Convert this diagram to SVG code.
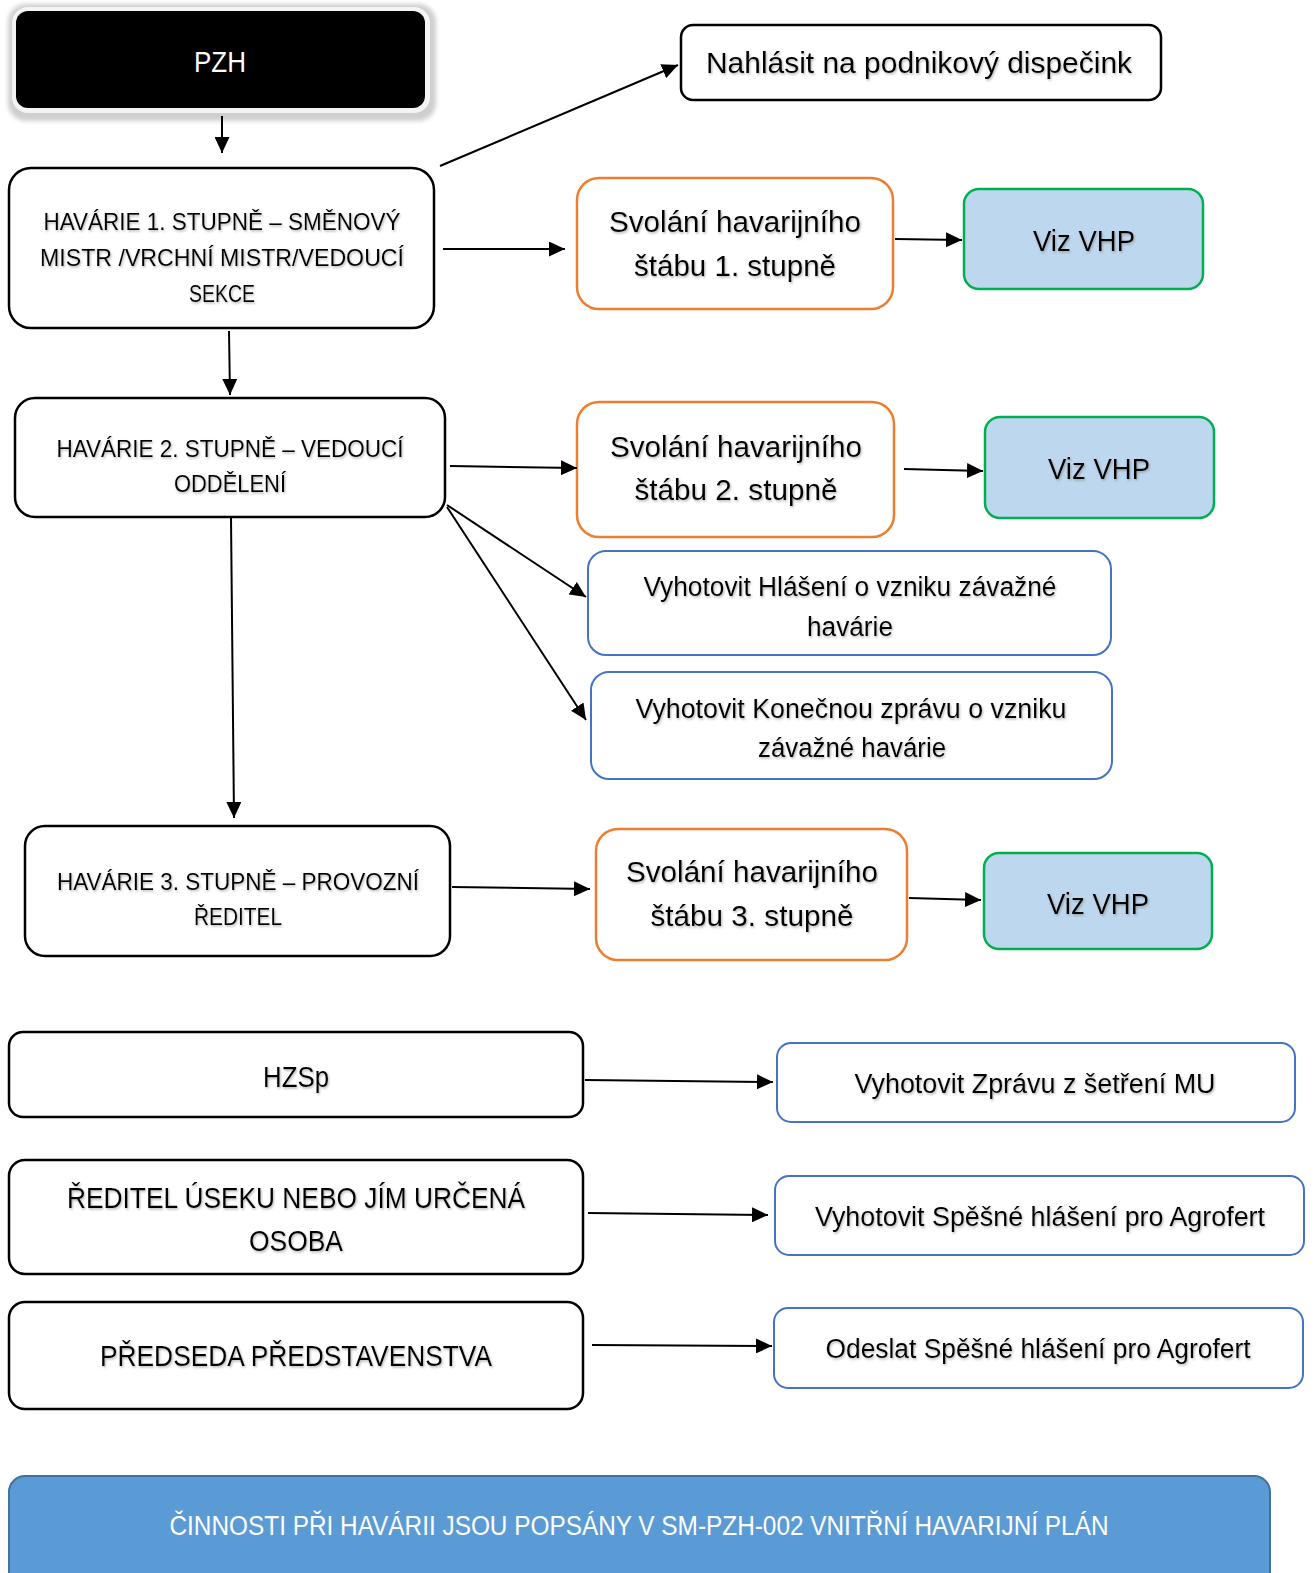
<svg xmlns="http://www.w3.org/2000/svg" width="1316" height="1573" viewBox="0 0 1316 1573">
<style>
text{font-family:"Liberation Sans","Noto Sans",sans-serif;text-anchor:middle;fill:#000}
.t{filter:url(#ts)}
.blk{fill:#fff;stroke:#000;stroke-width:2.5}
.org{fill:#fff;stroke:#ED7D31;stroke-width:2.5}
.grn{fill:#BDD7EE;stroke:#00B050;stroke-width:2.5}
.blu{fill:#fff;stroke:#4472C4;stroke-width:2}
.c line{stroke:#000;stroke-width:2;marker-end:url(#ah)}
.s22{font-size:24px}
.s28{font-size:30px}
.s26{font-size:27px}
</style>
<defs>
<marker id="ah" markerUnits="userSpaceOnUse" markerWidth="17" markerHeight="15" refX="16" refY="7.5" orient="auto">
<path d="M0,0 L16,7.5 L0,15 Z" fill="#000"/>
</marker>
<filter id="ts" x="-5%" y="-20%" width="110%" height="150%">
<feDropShadow dx="1" dy="1.5" stdDeviation="1" flood-color="#777" flood-opacity="0.55"/>
</filter>
<filter id="bl" x="-5%" y="-10%" width="110%" height="130%">
<feGaussianBlur stdDeviation="2"/>
</filter>
</defs>

<g id="pzh">
<rect x="8" y="4" width="428" height="117" rx="18" fill="#cfcfcf" filter="url(#bl)"/>
<rect x="12" y="7" width="418" height="106" rx="16" fill="#f4f4f4"/>
<rect x="16" y="11" width="409" height="97" rx="12" fill="#000"/>
<text x="220" y="72" font-size="30" style="fill:#fff" textLength="52" lengthAdjust="spacingAndGlyphs">PZH</text>
</g>

<g id="h1">
<rect class="blk" x="9" y="168" width="425" height="160" rx="22"/>
<text class="t s22" x="222" y="230" textLength="357" lengthAdjust="spacingAndGlyphs">HAVÁRIE 1. STUPNĚ – SMĚNOVÝ</text>
<text class="t s22" x="222" y="266" textLength="364" lengthAdjust="spacingAndGlyphs">MISTR /VRCHNÍ MISTR/VEDOUCÍ</text>
<text class="t s22" x="222" y="302" textLength="66" lengthAdjust="spacingAndGlyphs">SEKCE</text>
</g>

<g id="nahlasit">
<rect class="blk" x="681" y="25" width="480" height="75" rx="12"/>
<text class="t s28" x="919" y="73" textLength="426" lengthAdjust="spacingAndGlyphs">Nahlásit na podnikový dispečink</text>
</g>

<g id="svol1">
<rect class="org" x="577" y="178" width="316" height="131" rx="22"/>
<text class="t s28" x="735" y="232" textLength="252" lengthAdjust="spacingAndGlyphs">Svolání havarijního</text>
<text class="t s28" x="735" y="276" textLength="202" lengthAdjust="spacingAndGlyphs">štábu 1. stupně</text>
</g>

<g id="vhp1">
<rect class="grn" x="964" y="189" width="239" height="100" rx="15"/>
<text class="t s28" x="1084" y="251" textLength="102" lengthAdjust="spacingAndGlyphs">Viz VHP</text>
</g>

<g id="h2">
<rect class="blk" x="15" y="398" width="430" height="119" rx="20"/>
<text class="t s22" x="230" y="457" textLength="347" lengthAdjust="spacingAndGlyphs">HAVÁRIE 2. STUPNĚ – VEDOUCÍ</text>
<text class="t s22" x="230" y="492" textLength="112" lengthAdjust="spacingAndGlyphs">ODDĚLENÍ</text>
</g>

<g id="svol2">
<rect class="org" x="577" y="402" width="317" height="135" rx="22"/>
<text class="t s28" x="736" y="457" textLength="252" lengthAdjust="spacingAndGlyphs">Svolání havarijního</text>
<text class="t s28" x="736" y="500" textLength="203" lengthAdjust="spacingAndGlyphs">štábu 2. stupně</text>
</g>

<g id="vhp2">
<rect class="grn" x="985" y="417" width="229" height="101" rx="15"/>
<text class="t s28" x="1099" y="479" textLength="102" lengthAdjust="spacingAndGlyphs">Viz VHP</text>
</g>

<g id="hlaseni">
<rect class="blu" x="588" y="551" width="523" height="104" rx="18"/>
<text class="t s26" x="850" y="596" textLength="413" lengthAdjust="spacingAndGlyphs">Vyhotovit Hlášení o vzniku závažné</text>
<text class="t s26" x="850" y="636" textLength="86" lengthAdjust="spacingAndGlyphs">havárie</text>
</g>

<g id="konecna">
<rect class="blu" x="591" y="672" width="521" height="107" rx="18"/>
<text class="t s26" x="851" y="718" textLength="431" lengthAdjust="spacingAndGlyphs">Vyhotovit Konečnou zprávu o vzniku</text>
<text class="t s26" x="852" y="757" textLength="188" lengthAdjust="spacingAndGlyphs">závažné havárie</text>
</g>

<g id="h3">
<rect class="blk" x="25" y="826" width="425" height="130" rx="20"/>
<text class="t s22" x="238" y="890" textLength="362" lengthAdjust="spacingAndGlyphs">HAVÁRIE 3. STUPNĚ – PROVOZNÍ</text>
<text class="t s22" x="238" y="925" textLength="88" lengthAdjust="spacingAndGlyphs">ŘEDITEL</text>
</g>

<g id="svol3">
<rect class="org" x="596" y="829" width="311" height="131" rx="22"/>
<text class="t s28" x="752" y="882" textLength="252" lengthAdjust="spacingAndGlyphs">Svolání havarijního</text>
<text class="t s28" x="752" y="926" textLength="203" lengthAdjust="spacingAndGlyphs">štábu 3. stupně</text>
</g>

<g id="vhp3">
<rect class="grn" x="984" y="853" width="228" height="96" rx="15"/>
<text class="t s28" x="1098" y="914" textLength="102" lengthAdjust="spacingAndGlyphs">Viz VHP</text>
</g>

<g id="hzsp">
<rect class="blk" x="9" y="1032" width="574" height="85" rx="14"/>
<text class="t s28" x="296" y="1087" textLength="66" lengthAdjust="spacingAndGlyphs">HZSp</text>
</g>

<g id="zprava">
<rect class="blu" x="777" y="1043" width="518" height="79" rx="14"/>
<text class="t s26" x="1035" y="1093" textLength="361" lengthAdjust="spacingAndGlyphs">Vyhotovit Zprávu z šetření MU</text>
</g>

<g id="reditel">
<rect class="blk" x="9" y="1160" width="574" height="114" rx="16"/>
<text class="t s28" x="296" y="1208" textLength="458" lengthAdjust="spacingAndGlyphs">ŘEDITEL ÚSEKU NEBO JÍM URČENÁ</text>
<text class="t s28" x="296" y="1251" textLength="94" lengthAdjust="spacingAndGlyphs">OSOBA</text>
</g>

<g id="spesne">
<rect class="blu" x="775" y="1176" width="529" height="79" rx="14"/>
<text class="t s26" x="1040" y="1226" textLength="450" lengthAdjust="spacingAndGlyphs">Vyhotovit Spěšné hlášení pro Agrofert</text>
</g>

<g id="predseda">
<rect class="blk" x="9" y="1302" width="574" height="107" rx="16"/>
<text class="t s28" x="296" y="1366" textLength="392" lengthAdjust="spacingAndGlyphs">PŘEDSEDA PŘEDSTAVENSTVA</text>
</g>

<g id="odeslat">
<rect class="blu" x="774" y="1308" width="529" height="80" rx="14"/>
<text class="t s26" x="1038" y="1358" textLength="425" lengthAdjust="spacingAndGlyphs">Odeslat Spěšné hlášení pro Agrofert</text>
</g>

<g id="banner">
<rect x="9" y="1476" width="1261" height="120" rx="16" fill="#5B9BD5" stroke="#41719C" stroke-width="2"/>
<text x="639" y="1535" font-size="27" style="fill:#fff" textLength="939" lengthAdjust="spacingAndGlyphs">ČINNOSTI PŘI HAVÁRII JSOU POPSÁNY V SM-PZH-002 VNITŘNÍ HAVARIJNÍ PLÁN</text>
</g>

<g id="connectors" class="c">
<line x1="222" y1="116" x2="222" y2="153"/>
<line x1="440" y1="166" x2="678" y2="65"/>
<line x1="443" y1="249" x2="565" y2="249"/>
<line x1="895" y1="239" x2="962" y2="240"/>
<line x1="229" y1="331" x2="230" y2="395"/>
<line x1="450" y1="466" x2="577" y2="468"/>
<line x1="904" y1="469" x2="983" y2="471"/>
<line x1="447" y1="505" x2="586" y2="597"/>
<line x1="447" y1="507" x2="586" y2="720"/>
<line x1="231" y1="518" x2="234" y2="818"/>
<line x1="452" y1="887" x2="590" y2="889"/>
<line x1="909" y1="898" x2="981" y2="900"/>
<line x1="585" y1="1080" x2="773" y2="1082"/>
<line x1="588" y1="1213" x2="768" y2="1215"/>
<line x1="592" y1="1345" x2="772" y2="1346"/>
</g>
</svg>
